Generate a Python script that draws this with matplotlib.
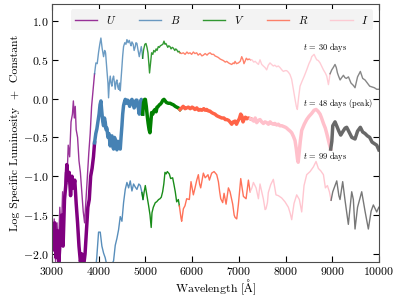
import numpy as np
import matplotlib
matplotlib.use("Agg")
import matplotlib.pyplot as plt

plt.rcParams['font.family'] = 'serif'
plt.rcParams['font.serif'] = ['cmr10']
plt.rcParams['mathtext.fontset'] = 'cm'
plt.rcParams['axes.formatter.use_mathtext'] = True

# band edges (Angstrom) and colours
band_names = ['$U$', '$B$', '$V$', '$R$', '$I$', None]
band_edges = [3920, 4950, 5760, 7270, 8985]
band_colors = ['purple', 'steelblue', 'green', 'tomato', 'pink', 'dimgray']

# t = 30 days
wl_30 = [3000, 3025, 3050, 3080, 3110, 3140, 3170, 3200, 3230, 3260, 3290, 3320, 3350, 3380, 3410, 3440, 3460, 3480,
         3500, 3520, 3550, 3580, 3610, 3640, 3670, 3700, 3730, 3760, 3790, 3820, 3850, 3880, 3913,
         3942, 3970, 4000, 4025, 4049, 4075, 4106, 4130, 4149, 4177, 4200, 4213, 4230, 4249, 4265, 4285, 4300, 4320,
         4340, 4356, 4375, 4392, 4410, 4427, 4445, 4463, 4480, 4499, 4515, 4534, 4560, 4585, 4606, 4630, 4655, 4677,
         4695, 4713, 4740, 4760, 4784, 4800, 4820, 4845, 4870, 4890, 4913, 4930, 4942,
         4963, 4990, 5013, 5035, 5056, 5075, 5090, 5110, 5134, 5160, 5180, 5206, 5230, 5250, 5277, 5300, 5320, 5349,
         5375, 5399, 5420, 5440, 5456, 5480, 5500, 5527, 5550, 5575, 5599, 5630, 5650, 5670, 5700, 5720, 5741,
         5770, 5813, 5850, 5890, 5920, 5955, 5990, 6027, 6060, 6098, 6130, 6170, 6210, 6241, 6280, 6320, 6350, 6384,
         6420, 6460, 6490, 6527, 6560, 6600, 6634, 6670, 6710, 6741, 6780, 6810, 6848, 6880, 6900, 6919, 6950, 6991,
         7030, 7062, 7090, 7110, 7133, 7160, 7190, 7220, 7250,
         7280, 7320, 7350, 7383, 7420, 7453, 7490, 7524, 7560, 7596, 7630, 7667, 7700, 7738, 7770, 7810, 7845, 7881,
         7920, 7953, 7990, 8024, 8060, 8095, 8130, 8167, 8200, 8230, 8252, 8280, 8310, 8350, 8400, 8452, 8500, 8540,
         8560, 8610, 8640, 8667, 8700, 8738, 8770, 8810, 8850, 8881, 8917, 8935, 8952,
         8988, 9020, 9058, 9085, 9110, 9140, 9167, 9200, 9238, 9270, 9300, 9345, 9400, 9450, 9486, 9540, 9600, 9650,
         9700, 9750, 9800, 9850, 9900, 9950, 9995]
lum_30 = [-1.45, -1.9, -1.55, -2.1, -1.6, -1.95, -1.4, -1.75, -1.2, -1.5, -0.95, -1.1, -0.6, -0.75, -0.3, -0.2, -0.03, -0.25,
          -0.1, -0.4, -0.5, -0.8, -0.95, -1.2, -1.45, -1.6, -1.3, -1.0, -0.7, -0.45, -0.1, 0.1, 0.32,
          0.46, 0.45, 0.6, 0.7, 0.78, 0.65, 0.54, 0.62, 0.59, 0.37, 0.2, 0.01, 0.2, 0.29, 0.2, 0.16, 0.25, 0.29,
          0.2, 0.12, 0.22, 0.24, 0.15, 0.12, 0.2, 0.1, 0.25, 0.41, 0.55, 0.67, 0.72, 0.7, 0.76, 0.72, 0.75, 0.71,
          0.68, 0.73, 0.7, 0.62, 0.67, 0.72, 0.71, 0.62, 0.54, 0.6, 0.67, 0.6, 0.52,
          0.63, 0.7, 0.71, 0.66, 0.59, 0.45, 0.33, 0.45, 0.59, 0.57, 0.62, 0.6, 0.64, 0.62, 0.67, 0.66, 0.68, 0.69,
          0.7, 0.74, 0.7, 0.71, 0.69, 0.66, 0.68, 0.67, 0.64, 0.66, 0.65, 0.62, 0.64, 0.63, 0.6, 0.61, 0.59,
          0.58, 0.59, 0.57, 0.6, 0.58, 0.59, 0.57, 0.6, 0.58, 0.59, 0.56, 0.58, 0.55, 0.56, 0.58, 0.56, 0.58, 0.59,
          0.57, 0.57, 0.55, 0.54, 0.53, 0.51, 0.5, 0.49, 0.47, 0.48, 0.46, 0.45, 0.44, 0.46, 0.45, 0.48, 0.45, 0.46,
          0.48, 0.54, 0.5, 0.45, 0.48, 0.52, 0.5, 0.51, 0.5,
          0.5, 0.47, 0.48, 0.46, 0.44, 0.5, 0.44, 0.42, 0.4, 0.37, 0.43, 0.46, 0.44, 0.42, 0.43, 0.41, 0.42, 0.4,
          0.37, 0.35, 0.36, 0.36, 0.34, 0.31, 0.25, 0.12, 0.0, -0.1, -0.14, 0.02, 0.16, 0.22, 0.29, 0.37, 0.45, 0.5,
          0.54, 0.57, 0.53, 0.5, 0.49, 0.46, 0.42, 0.37, 0.33, 0.29, 0.18, 0.25, 0.32,
          0.37, 0.4, 0.44, 0.4, 0.33, 0.28, 0.24, 0.27, 0.3, 0.27, 0.26, 0.28, 0.2, 0.17, 0.14, 0.28, 0.35, 0.26,
          0.24, 0.2, 0.16, 0.15, 0.14, 0.12, 0.12]

# t = 48 days (peak)
wl_48 = [3000, 3030, 3060, 3090, 3120, 3150, 3180, 3210, 3240, 3270, 3300, 3320, 3345, 3370, 3400, 3430, 3460, 3490,
         3520, 3550, 3580, 3610, 3640, 3680, 3710, 3740, 3770, 3800, 3830, 3860, 3890, 3913,
         3940, 3963, 3985, 4010, 4030, 4049, 4070, 4090, 4106, 4125, 4141, 4160, 4177, 4200, 4220, 4249, 4265, 4285,
         4300, 4320, 4340, 4356, 4375, 4392, 4410, 4427, 4445, 4463, 4480, 4499, 4515, 4534, 4550, 4570, 4600, 4620,
         4642, 4665, 4690, 4713, 4740, 4760, 4784, 4800, 4820, 4845, 4870, 4890, 4913, 4930, 4942,
         4963, 4985, 5000, 5020, 5040, 5060, 5080, 5098, 5115, 5134, 5160, 5180, 5206, 5230, 5250, 5277, 5300, 5325,
         5349, 5375, 5399, 5425, 5450, 5492, 5530, 5560, 5599, 5640, 5670, 5706, 5741,
         5777, 5810, 5850, 5884, 5920, 5960, 6000, 6027, 6060, 6100, 6140, 6170, 6210, 6250, 6280, 6312, 6350, 6380,
         6419, 6450, 6490, 6527, 6560, 6600, 6634, 6680, 6710, 6741, 6780, 6810, 6848, 6880, 6919, 6950, 6980, 7010,
         7040, 7062, 7090, 7110, 7140, 7170, 7205, 7250,
         7280, 7320, 7350, 7383, 7420, 7453, 7490, 7526, 7560, 7596, 7633, 7670, 7700, 7738, 7770, 7810, 7845, 7881,
         7920, 7960, 8000, 8024, 8060, 8100, 8131, 8170, 8202, 8230, 8255, 8270, 8290, 8315, 8345, 8400, 8452, 8500,
         8560, 8610, 8652, 8690, 8738, 8770, 8810, 8850, 8881, 8910, 8938, 8966,
         8990, 9010, 9058, 9100, 9140, 9180, 9230, 9274, 9308, 9350, 9417, 9486, 9540, 9600, 9650, 9700, 9750, 9800,
         9850, 9900, 9950, 9995]
lum_48 = [-1.75, -1.95, -1.6, -2.05, -1.7, -2.1, -1.8, -1.5, -1.9, -1.3, -1.1, -0.85, -1.05, -0.95, -1.25, -1.0, -1.15, -1.05,
          -1.35, -1.6, -1.9, -2.1, -2.0, -2.15, -2.0, -1.7, -1.4, -1.3, -1.0, -0.9, -0.75, -0.57,
          -0.45, -0.39, -0.3, -0.2, -0.08, -0.03, -0.18, -0.3, -0.35, -0.25, -0.3, -0.4, -0.38, -0.5, -0.45, -0.61, -0.5, -0.48,
          -0.6, -0.65, -0.5, -0.53, -0.62, -0.66, -0.55, -0.58, -0.62, -0.65, -0.5, -0.35, -0.2, -0.09, -0.05, -0.01, -0.06, -0.02,
          -0.05, -0.1, -0.03, -0.01, -0.05, -0.12, -0.09, -0.02, -0.02, -0.1, -0.2, -0.1, -0.01, -0.1, -0.2,
          -0.05, -0.01, -0.01, -0.1, -0.22, -0.32, -0.4, -0.44, -0.32, -0.18, -0.2, -0.16, -0.14, -0.17, -0.11, -0.1, -0.08, -0.07,
          -0.05, -0.02, -0.01, -0.03, -0.05, -0.06, -0.06, -0.07, -0.08, -0.1, -0.11, -0.12, -0.14,
          -0.12, -0.1, -0.13, -0.12, -0.11, -0.13, -0.11, -0.12, -0.14, -0.12, -0.15, -0.14, -0.15, -0.13, -0.15, -0.14, -0.16, -0.16,
          -0.18, -0.19, -0.2, -0.22, -0.23, -0.24, -0.25, -0.25, -0.27, -0.27, -0.28, -0.3, -0.33, -0.3, -0.29, -0.33, -0.29, -0.26,
          -0.2, -0.22, -0.3, -0.27, -0.24, -0.26, -0.25, -0.26,
          -0.27, -0.29, -0.25, -0.31, -0.28, -0.27, -0.3, -0.32, -0.3, -0.31, -0.33, -0.3, -0.32, -0.33, -0.32, -0.34, -0.33, -0.35,
          -0.35, -0.36, -0.37, -0.38, -0.4, -0.42, -0.44, -0.49, -0.54, -0.65, -0.78, -0.82, -0.7, -0.55, -0.41, -0.33, -0.27, -0.23,
          -0.19, -0.15, -0.14, -0.16, -0.2, -0.25, -0.32, -0.38, -0.45, -0.52, -0.59, -0.65,
          -0.55, -0.35, -0.3, -0.36, -0.42, -0.47, -0.42, -0.38, -0.37, -0.42, -0.5, -0.52, -0.42, -0.37, -0.43, -0.45, -0.48, -0.5,
          -0.56, -0.58, -0.6, -0.66]

# t = 99 days
wl_99 = [3000, 3200, 3400, 3600, 3800, 3920, 3960, 3999,
         4035, 4070, 4106, 4141, 4177, 4220, 4270, 4320, 4356, 4392, 4427, 4463, 4499, 4534, 4570, 4606, 4642, 4677,
         4713, 4748, 4785, 4820, 4860, 4892, 4927, 4950,
         4975, 4999, 5034, 5070, 5100, 5125, 5142, 5170, 5213, 5241, 5284, 5313, 5341, 5370, 5395, 5420, 5445, 5470,
         5513, 5541, 5584, 5613, 5640, 5670, 5706, 5727, 5763,
         5777, 5813, 5848, 5884, 5941, 5977, 6027, 6063, 6100, 6134, 6160, 6184, 6241, 6280, 6312, 6340, 6370, 6419,
         6470, 6527, 6563, 6590, 6613, 6655, 6684, 6727, 6777, 6812, 6869, 6900, 6919, 6955, 6991, 7041, 7070, 7098,
         7155, 7205, 7241,
         7280, 7312, 7369, 7419, 7453, 7490, 7524, 7562, 7581, 7612, 7631, 7681, 7738, 7770, 7795, 7845, 7917, 7988,
         8060, 8100, 8131, 8181, 8238, 8295, 8345, 8395, 8452, 8524, 8595, 8652, 8702, 8752, 8810, 8852, 8895, 8938,
         8974,
         9010, 9095, 9140, 9165, 9222, 9270, 9343, 9415, 9450, 9486, 9540, 9629, 9700, 9771, 9830, 9878, 9950, 9995]
lum_99 = [-2.35, -2.4, -2.3, -2.5, -2.4, -2.3, -2.05, -1.72,
          -1.72, -1.9, -1.99, -2.05, -2.15, -2.2, -2.15, -2.09, -1.89, -1.8, -1.69, -1.52, -1.58, -1.34, -1.17, -1.08, -1.15, -1.06,
          -1.19, -1.1, -1.14, -1.17, -1.1, -1.12, -1.21, -1.3,
          -1.2, -1.12, -1.25, -1.38, -1.5, -1.66, -1.47, -1.4, -1.34, -1.33, -1.3, -1.29, -1.27, -1.2, -1.1, -0.95, -0.97, -0.94,
          -0.97, -1.03, -1.02, -1.11, -1.2, -1.33, -1.3, -1.38, -1.54,
          -1.58, -1.42, -1.38, -1.29, -1.3, -1.07, -1.24, -1.15, -1.05, -0.98, -1.1, -1.15, -0.96, -1.02, -1.0, -0.98, -1.05, -0.96,
          -0.94, -0.98, -1.07, -1.2, -1.29, -1.34, -1.22, -1.36, -1.15, -1.2, -1.36, -1.5, -1.53, -1.55, -1.36, -1.03, -1.15, -1.26,
          -1.29, -1.05, -1.2,
          -1.15, -1.08, -1.15, -1.29, -1.1, -1.2, -1.29, -1.43, -1.42, -1.34, -1.21, -1.11, -1.04, -1.15, -1.24, -1.25, -1.28, -1.33,
          -1.4, -1.48, -1.56, -1.35, -1.24, -1.3, -1.46, -1.12, -0.98, -0.94, -0.88, -0.81, -0.9, -0.93, -0.98, -1.15, -1.12, -1.2,
          -1.31,
          -1.2, -1.06, -1.25, -1.3, -1.07, -1.3, -1.62, -1.2, -1.3, -1.68, -1.4, -1.2, -1.45, -1.68, -1.45, -1.37, -1.46, -1.4]


def plot_bands(ax, wl, lum, lw, alpha=1.0, labels=False):
    wl = np.array(wl)
    lum = np.array(lum)
    edges = [wl.min() - 1] + band_edges + [wl.max() + 1]
    for i in range(len(band_colors)):
        # keep one point of overlap so the segments join
        idx = np.where((wl >= edges[i]) & (wl <= edges[i + 1]))[0]
        if len(idx) == 0:
            continue
        if idx[0] > 0:
            idx = np.insert(idx, 0, idx[0] - 1)
        lab = band_names[i] if labels else None
        ax.plot(wl[idx], lum[idx], color=band_colors[i], lw=lw, alpha=alpha, label=lab)


fig = plt.figure(figsize=(3.99, 2.99), dpi=100)
ax = fig.add_axes([0.130, 0.125, 0.820, 0.862])

plot_bands(ax, wl_30, lum_30, 1.0, alpha=0.8, labels=True)
plot_bands(ax, wl_48, lum_48, 2.5)
plot_bands(ax, wl_99, lum_99, 1.0, alpha=0.9)

ax.text(8380, 0.63, '$t$ = 30 days', fontsize=6)
ax.text(8380, -0.09, '$t$ = 48 days (peak)', fontsize=6)
ax.text(8380, -0.78, '$t$ = 99 days', fontsize=6)

ax.set_xlim(3000, 10000)
ax.set_ylim(-2.1, 1.22)
ax.set_xticks(np.arange(3000, 10001, 1000))
ax.set_yticks([-2.0, -1.5, -1.0, -0.5, 0.0, 0.5, 1.0])
ax.tick_params(direction='in', top=True, right=True, labelsize=8.5, length=4, pad=2.5)
for s in ax.spines.values():
    s.set_color('0.3')

ax.set_xlabel(r'Wavelength [$\mathrm{\AA}$]', fontsize=8.5, labelpad=0)
ax.set_ylabel('Log Specific Luminosity  +  Constant', fontsize=8.5, labelpad=2)

leg = ax.legend(loc='upper right', ncol=5, fontsize=8, frameon=True, framealpha=1,
                facecolor='#f3f3f3', edgecolor='none', borderaxespad=0.5)

fig.savefig('out.png', dpi=100)
